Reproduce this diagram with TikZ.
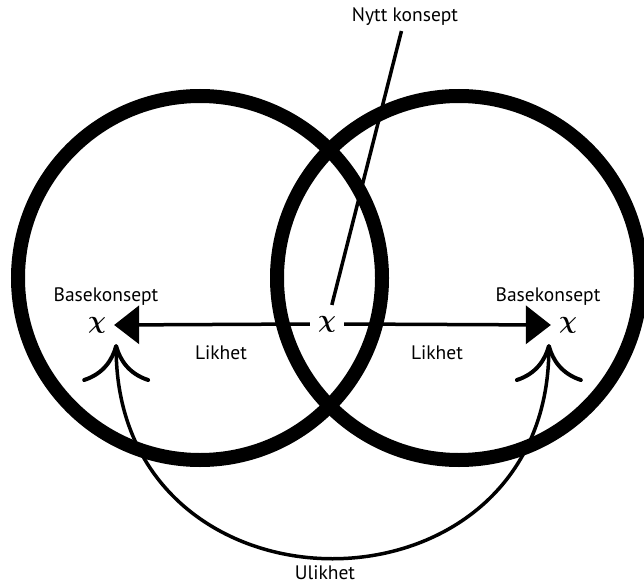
\documentclass[tikz,border=0pt]{standalone}
\usepackage{fontspec}
\setmainfont{PT Sans}
\usetikzlibrary{arrows.meta, positioning, calc}

\begin{document}
\begin{tikzpicture}[x=1pt, y=-1pt,
    ring/.style={draw, circle, line width=14pt, minimum size=364pt, inner sep=0pt},
    concept/.style={inner sep=8pt, font=\fontsize{36}{36}\selectfont\boldmath},
    lbl/.style={inner sep=1pt, font=\fontsize{19.5}{22}\selectfont},
    likarrow/.style={line width=3.5pt, -{Triangle[length=25pt, width=38pt]}},
    ulikarrow/.style={line width=3.5pt,
      {Computer Modern Rightarrow[length=38pt, width=68pt, line width=4pt]}-{Computer Modern Rightarrow[length=38pt, width=68pt, line width=4pt]}}]
  \useasboundingbox (0,0) rectangle (644,585);
  % the two sets
  \node[ring] (setl) at (200,278) {};
  \node[ring] (setr) at (459,278) {};
  % concepts
  \node[concept] (newc) at (327,324) {$\chi$};
  \node[concept] (basel) at (97,325) {$\chi$};
  \node[concept] (baser) at (568,325) {$\chi$};
  \node[lbl] (nytt) at (405,17) {Nytt konsept};
  \node[lbl] (basell) at (106,297) {Basekonsept};
  \node[lbl] (baserl) at (548,297) {Basekonsept};
  \node[lbl] (likl) at (221,353) {Likhet};
  \node[lbl] (likr) at (437,353) {Likhet};
  \node[lbl] (ulik) at (325,573) {Ulikhet};
  % connectors
  \draw[line width=3.5pt, shorten <=4pt, shorten >=3pt] (nytt) -- (newc);
  \draw[likarrow] (newc.west) -- (basel.east);
  \draw[likarrow] (newc.east) -- (baser.west);
  \coordinate (ulkl) at ($(basel.east)+(2,19)$);
  \coordinate (ulkr) at ($(baser.west)+(-2,19)$);
  \draw[ulikarrow] (ulkl) .. controls ($(ulkl)+(0,285)$) and ($(ulkr)+(0,285)$) .. (ulkr);
\end{tikzpicture}
\end{document}
